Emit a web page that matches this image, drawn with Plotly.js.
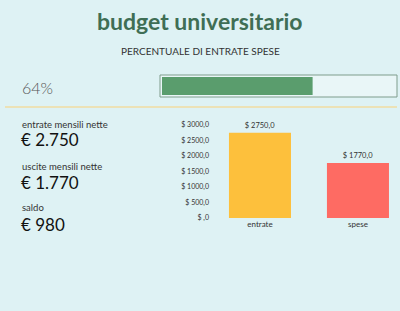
<!DOCTYPE html>
<html><head><meta charset="utf-8">
<script src="https://cdn.plot.ly/plotly-3.0.1.min.js"></script>
<style>html,body{margin:0;padding:0;background:#def2f4;}#c{width:400px;height:311px;}</style>
</head><body><div id="c"></div>
<script>
const categories = ['entrate', 'spese'];
const values = [2750, 1770];
const yTicks = [0, 500, 1000, 1500, 2000, 2500, 3000];
const yTickLabels = ['$ ,0', '$ 500,0', '$ 1000,0', '$ 1500,0', '$ 2000,0', '$ 2500,0', '$ 3000,0'];
const summaryLabels = ['entrate mensili nette', 'uscite mensili nette', 'saldo'];
const summaryValues = [2750, 1770, 980];

const pct = values[1] / values[0];
const W = 400, H = 311;
const px = x => x / W, py = y => 1 - y / H;
const fmtEuro = v => '€ ' + v.toLocaleString('de-DE');
const fmtDollar = v => '$ ' + v.toFixed(1).replace('.', ',');
const FONT = 'Lato, "Open Sans", sans-serif';

const traces = [
  {type: 'bar', x: categories, y: values, xaxis: 'x', yaxis: 'y',
   marker: {color: ['#fdc03c', '#fe6b63']}, width: 0.633,
   text: values.map(fmtDollar), textposition: 'outside', cliponaxis: false,
   textfont: {size: 7.5, color: '#333', family: FONT}, hoverinfo: 'skip'},
  {type: 'bar', orientation: 'h', x: [pct], y: [0], xaxis: 'x2', yaxis: 'y2',
   marker: {color: '#5a9d6d'}, width: 1, hoverinfo: 'skip'}
];

const annotations = [
  {text: 'budget universitario', x: 0.5, y: py(21), xref: 'paper', yref: 'paper', showarrow: false,
   xanchor: 'center', yanchor: 'middle', font: {size: 23, color: '#3f6e55', family: FONT, weight: 'bold'}},
  {text: 'PERCENTUALE DI ENTRATE SPESE', x: 0.5, y: py(51), xref: 'paper', yref: 'paper', showarrow: false,
   xanchor: 'center', yanchor: 'middle', font: {size: 10, color: '#333', family: FONT}},
  {text: Math.round(pct * 100) + '%', x: px(20), y: py(87), xref: 'paper', yref: 'paper', showarrow: false,
   xanchor: 'left', yanchor: 'middle', font: {size: 16, color: '#555', family: FONT, weight: 300}}
];
const labelY = [124, 166, 207], valueY = [140, 182, 224];
summaryLabels.forEach((l, i) => {
  annotations.push({text: l, x: px(20), y: py(labelY[i]), xref: 'paper', yref: 'paper', showarrow: false,
    xanchor: 'left', yanchor: 'middle', font: {size: 9.5, color: '#333', family: FONT}});
  annotations.push({text: fmtEuro(summaryValues[i]), x: px(19), y: py(valueY[i]), xref: 'paper', yref: 'paper', showarrow: false,
    xanchor: 'left', yanchor: 'middle', font: {size: 17, color: '#111', family: FONT}});
});

const layout = {
  width: W, height: H, margin: {l: 0, r: 0, t: 0, b: 0},
  paper_bgcolor: '#def2f4', plot_bgcolor: 'rgba(0,0,0,0)', showlegend: false,
  xaxis: {domain: [px(210), px(395)], range: [-0.51, 1.378], showgrid: false, zeroline: false, showline: false,
          ticks: '', tickfont: {size: 8, color: '#333', family: FONT}, fixedrange: true},
  yaxis: {domain: [py(218), py(120)], range: [0, 3161], showgrid: false, zeroline: false, showline: false,
          tickvals: yTicks, ticktext: yTickLabels, ticks: '', tickfont: {size: 7, color: '#333', family: FONT}},
  xaxis2: {domain: [px(162), px(396)], range: [0, 1], visible: false, anchor: 'y2'},
  yaxis2: {domain: [py(95), py(77)], range: [-0.5, 0.5], visible: false, anchor: 'x2'},
  shapes: [
    {type: 'rect', xref: 'paper', yref: 'paper', x0: px(160), x1: px(397), y0: py(97), y1: py(75),
     line: {color: '#7f9d8c', width: 1}, fillcolor: '#e9f6f7', layer: 'below'},
    {type: 'line', xref: 'paper', yref: 'paper', x0: px(5), x1: px(397), y0: py(107), y1: py(107),
     line: {color: '#f0dca2', width: 1.5}}
  ],
  annotations: annotations
};
Plotly.newPlot('c', traces, layout, {staticPlot: true, displayModeBar: false});
</script></body></html>
